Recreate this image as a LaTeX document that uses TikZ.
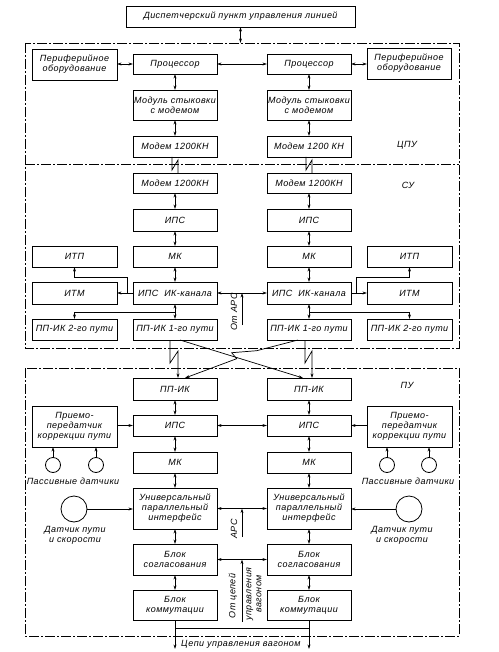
\documentclass[tikz,border=0pt]{standalone}
\usepackage{fontspec}
\setmainfont{Liberation Sans}[LetterSpace=5]
\usetikzlibrary{arrows.meta}
\newcommand\lbl{\itshape\fontsize{9}{10}\selectfont}
\tikzset{
 box/.style={draw, line width=0.8pt, inner sep=0pt, outer sep=0pt, align=center, font=\lbl},
 lab/.style={inner sep=0pt, align=center, font=\lbl},
 ln/.style={line width=0.7pt},
 arr/.style={ln, -{Stealth[length=4.5pt,width=2.8pt]}},
 darr/.style={ln, {Stealth[length=4.5pt,width=2.8pt]}-{Stealth[length=4.5pt,width=2.8pt]}},
 frame/.style={line width=0.5pt, dash pattern=on 10pt off 2pt on 2pt off 2pt},
 sens/.style={draw, circle, line width=0.8pt, inner sep=0pt, outer sep=0pt}
}
\newcommand\mybox[6]{\node[box, minimum width={(#4-#2)*1pt}, minimum height={(#5-#3)*1pt}] (#1) at ({(#2+#4)/2},{(#3+#5)/2}) {#6};}
\begin{document}
\begin{tikzpicture}[x=1pt,y=-1pt]
\useasboundingbox (0,0) rectangle (498,652);
% frames
\draw[frame] (25,43) rectangle (459,348);
\draw[frame] (25,164) -- (459,164);
\draw[frame] (25,368) rectangle (459,636);
% top
\mybox{disp}{126}{6}{355}{27}{Диспетчерский пункт управления линией}
\coordinate (fr) at (240.5,43);
\draw[darr] (disp.south) -- (fr);
% CPU
\mybox{periL}{32}{49}{117}{80}{Периферийное\\оборудование}
\mybox{procL}{133}{54}{217}{74}{Процессор}
\mybox{procR}{267}{54}{351}{74}{Процессор}
\mybox{periR}{367}{48}{451}{79}{Периферийное\\оборудование}
\mybox{modL}{133}{90}{217}{120}{Модуль стыковки\\с модемом}
\mybox{modR}{267}{90}{351}{120}{Модуль стыковки\\с модемом}
\mybox{cmodemL}{133}{136}{217}{157}{Модем 1200КН}
\mybox{cmodemR}{267}{136}{351}{157}{Модем 1200 КН}
\node[lab] (cpu) at (407,145) {ЦПУ};
\draw[darr] (procL.west) -- (procL.west -| periL.east);
\draw[darr] (procL) -- (procR);
\draw[darr] (procR.east) -- (procR.east -| periR.west);
\draw[darr] (procL) -- (modL);
\draw[darr] (modL) -- (cmodemL);
\draw[darr] (procR) -- (modR);
\draw[darr] (modR) -- (cmodemR);
% SU
\mybox{smodemL}{133}{173}{217}{193}{Модем 1200КН}
\mybox{smodemR}{267}{173}{351}{193}{Модем 1200КН}
\mybox{sipsL}{133}{209}{217}{231}{ИПС}
\mybox{sipsR}{267}{209}{351}{231}{ИПС}
\mybox{smkL}{133}{246}{217}{267}{МК}
\mybox{smkR}{267}{246}{351}{267}{МК}
\mybox{itpL}{32}{246}{117}{267}{ИТП}
\mybox{itpR}{367}{246}{452}{267}{ИТП}
\mybox{itmL}{32}{282}{117}{304}{ИТМ}
\mybox{itmR}{367}{282}{452}{304}{ИТМ}
\mybox{ikL}{133}{282}{217}{304}{ИПС\ \ ИК-канала}
\mybox{ikR}{267}{282}{351}{304}{ИПС\ \ ИК-канала}
\mybox{pp2L}{32}{319}{117}{340}{ПП-ИК 2-го пути}
\mybox{pp1L}{133}{319}{217}{340}{ПП-ИК 1-го пути}
\mybox{pp1R}{267}{319}{351}{340}{ПП-ИК 1-го пути}
\mybox{pp2R}{367}{319}{452}{340}{ПП-ИК 2-го пути}
\node[lab] (su) at (408,185) {СУ};
\draw[ln] ([xshift=-3pt]cmodemL.south) -- ++(0,13) -- ++(6,-10) -- ([xshift=3pt]smodemL.north);
\draw[ln] ([xshift=-3pt]cmodemR.south) -- ++(0,13) -- ++(6,-10) -- ([xshift=3pt]smodemR.north);
\draw[darr] (smodemL) -- (sipsL);
\draw[darr] (sipsL) -- (smkL);
\draw[darr] (smkL) -- (ikL);
\draw[darr] (smodemR) -- (sipsR);
\draw[darr] (sipsR) -- (smkR);
\draw[darr] (smkR) -- (ikR);
\draw[arr] (ikL.west) -- (itmL.east);
\draw[arr] (ikR.east) -- (itmR.west);
\draw[arr] ([xshift=-6pt]ikL.west) -- ++(0,-16) -| (itpL.south);
\draw[arr] ([xshift=5pt]ikR.east) -- ++(0,-16) -| (itpR.south);
\draw[darr] (ikL) -- (ikR);
\draw[darr] (pp1L) -- (ikL);
\draw[darr] (pp1R) -- (ikR);
\path (pp1L.north) ++(0,-7) coordinate (jL);
\path (pp1R.north) ++(0,-7) coordinate (jR);
\draw[arr] (jL) -| (pp2L.north);
\draw[arr] (jR) -| (pp2R.north);
\coordinate (ars1) at (242,325);
\draw[arr] (ars1) -- (ars1 |- ikL.east);
\node[lab, rotate=90] (ars1t) at (234,312) {От АРС};
% PU
\mybox{ppL}{133}{378}{217}{400}{ПП-ИК}
\mybox{ppR}{267}{378}{351}{400}{ПП-ИК}
\mybox{pipsL}{133}{415}{217}{436}{ИПС}
\mybox{pipsR}{267}{415}{351}{436}{ИПС}
\mybox{pmkL}{133}{452}{217}{473}{МК}
\mybox{pmkR}{267}{452}{351}{473}{МК}
\mybox{univL}{133}{488}{217}{529}{Универсальный\\параллельный\\интерфейс}
\mybox{univR}{267}{488}{351}{529}{Универсальный\\параллельный\\интерфейс}
\mybox{soglL}{133}{544}{217}{575}{Блок\\согласования}
\mybox{soglR}{267}{544}{351}{575}{Блок\\согласования}
\mybox{kommL}{133}{590}{217}{620}{Блок\\коммутации}
\mybox{kommR}{267}{590}{351}{620}{Блок\\коммутации}
\mybox{prmL}{32}{406}{117}{447}{Приемо-\\передатчик\\коррекции пути}
\mybox{prmR}{367}{406}{452}{447}{Приемо-\\передатчик\\коррекции пути}
\node[lab] (pu) at (407,385) {ПУ};
% links SU -> PU
\draw[ln, -{Stealth[length=4.5pt,width=2.8pt]}] ([xshift=-5pt]pp1L.south) -- ++(0,23) -- ++(8,-12) -- ([xshift=3pt]ppL.north);
\draw[ln, -{Stealth[length=4.5pt,width=2.8pt]}] ([xshift=-4pt]pp1R.south) -- ++(0,23) -- ++(7,-12) -- ([xshift=3pt]ppR.north);
\draw[arr] ([xshift=5pt]pp1L.south) -- ([xshift=-6pt]ppR.north);
\draw[arr] ([xshift=-11pt]pp1R.south) -- (256.7,350.7) -- (231.7,352.7) -- (236.7,358.7) -- ([xshift=10pt]ppL.north);
% PU links
\draw[darr] (ppL) -- (pipsL);
\draw[darr] (pipsL) -- (pmkL);
\draw[darr] (pmkL) -- (univL);
\draw[darr] (univL) -- (soglL);
\draw[darr] (soglL) -- (kommL);
\draw[darr] (ppR) -- (pipsR);
\draw[darr] (pipsR) -- (pmkR);
\draw[darr] (pmkR) -- (univR);
\draw[darr] (univR) -- (soglR);
\draw[darr] (soglR) -- (kommR);
\draw[darr] (pipsL) -- (pipsR);
\draw[arr] (prmL.east |- pipsL.west) -- (pipsL.west);
\draw[arr] (prmR.west |- pipsR.east) -- (pipsR.east);
\node[sens, minimum size=15pt] (pa1) at (53,465) {};
\node[sens, minimum size=15pt] (pa2) at (96,465) {};
\node[sens, minimum size=15pt] (pa3) at (387,465) {};
\node[sens, minimum size=15pt] (pa4) at (429,465) {};
\draw[arr] (pa1.north) -- (pa1.north |- prmL.south);
\draw[arr] (pa2.north) -- (pa2.north |- prmL.south);
\draw[arr] (pa3.north) -- (pa3.north |- prmR.south);
\draw[arr] (pa4.north) -- (pa4.north |- prmR.south);
\node[lab] (pasL) at (73,481) {Пассивные датчики};
\node[lab] (pasR) at (408,481) {Пассивные датчики};
\node[sens, minimum size=26pt] (dsL) at (74,509) {};
\node[sens, minimum size=26pt] (dsR) at (409,509) {};
\draw[arr] (dsL.east) -- (dsL.east -| univL.west);
\draw[arr] (dsR.west) -- (dsR.west -| univR.east);
\node[lab] (dsLt) at (75,535) {Датчик пути\\и скорости};
\node[lab] (dsRt) at (402,535) {Датчик пути\\и скорости};
\draw[darr] (univL) -- (univR);
\coordinate (ars2) at (242,537);
\draw[arr] (ars2) -- (ars2 |- univL.east);
\node[lab, rotate=90] (ars2t) at (234,529) {АРС};
\draw[darr] (soglL) -- (soglR);
\coordinate (oc) at (242,622);
\draw[arr] (oc) -- (oc |- soglL.east);
\node[lab, rotate=90] (oct1) at (233,596) {От цепей};
\node[lab, rotate=90] (oct2) at (254,594) {управления\\вагоном};
\coordinate (outL) at (175,649);
\coordinate (outR) at (309,649);
\draw[arr] (kommL.south) -- (outL);
\draw[arr] (kommR.south) -- (outR);
\draw[ln] ([yshift=-8pt]kommL.south) -- ([yshift=-8pt]kommR.south);
\node[lab, anchor=west] (outt) at (181,644) {Цепи управления вагоном};
\end{tikzpicture}
\end{document}
